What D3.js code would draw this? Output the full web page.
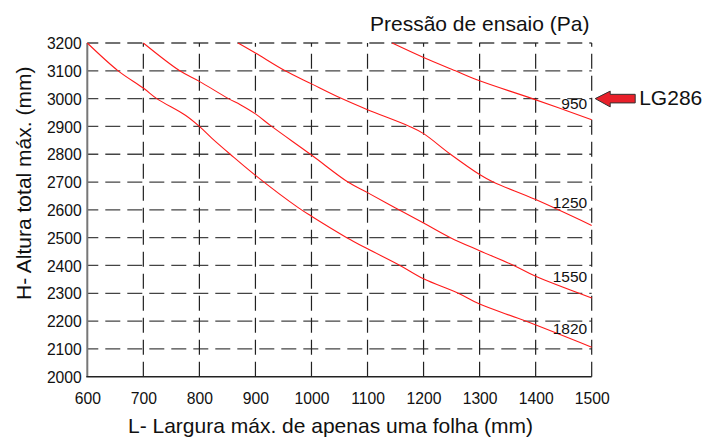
<!DOCTYPE html>
<html>
<head>
<meta charset="utf-8">
<script src="https://cdn.jsdelivr.net/npm/d3@7"></script>
<style>
  html, body { margin: 0; padding: 0; background: #fff; }
  svg { display: block; font-family: Arial, "Liberation Sans", sans-serif; }
</style>
</head>
<body>
<svg id="chart" width="705" height="438"></svg>
<script>
// ---- data ----
const xTicks = [600, 700, 800, 900, 1000, 1100, 1200, 1300, 1400, 1500];
const yTicks = [2000, 2100, 2200, 2300, 2400, 2500, 2600, 2700, 2800, 2900, 3000, 3100, 3200];
const pressures = ["950", "1250", "1550", "1820"];
const curve950 = [[1144,3200],[1200,3148],[1257,3100],[1300,3064],[1394,3000],[1500,2924]];
const curve1250 = [[869,3200],[900,3164],[953,3100],[1000,3053],[1054,3000],[1100,2960],[1175,2900],[1200,2874],[1248,2800],[1300,2727],[1325,2699],[1400,2637],[1500,2544]];
const curve1550 = [[700,3200],[765,3100],[800,3062],[852,3000],[873,2978],[900,2945],[929,2900],[1000,2797],[1065,2700],[1100,2662],[1150,2607],[1200,2553],[1248,2500],[1300,2453],[1361,2400],[1400,2361],[1500,2283]];
const curve1820 = [[600,3200],[655,3100],[700,3038],[724,3000],[775,2940],[800,2900],[822,2858],[855,2800],[900,2724],[977,2607],[1000,2577],[1063,2500],[1100,2460],[1158,2400],[1200,2352],[1262,2300],[1300,2261],[1382,2200],[1500,2106]];
const labelValues = [2961, 2605, 2341, 2154];
const markerLabel = "LG286";
const markerValue = 3000;
const xTitle = "L- Largura máx. de apenas uma folha (mm)";
const yTitle = "H- Altura total máx. (mm)";
const topTitle = "Pressão de ensaio (Pa)";

// ---- layout ----
const svg = d3.select("#chart");
const L = 87.3, R = 591.7, T = 43, B = 376.7;
const x = d3.scaleLinear().domain([600, 1500]).range([L, R]);
const y = d3.scaleLinear().domain([2000, 3200]).range([B, T]);

// grid - horizontal
const grid = svg.append("g");
grid.selectAll("line.h").data(yTicks.filter(d => d > 2000)).enter().append("line")
  .attr("x1", L).attr("x2", R)
  .attr("y1", d => y(d)).attr("y2", d => y(d))
  .attr("stroke", "#444").attr("stroke-width", 1.3)
  .attr("stroke-dasharray", "15,7").attr("stroke-dashoffset", 4);
// grid - vertical (drawn from bottom up)
grid.selectAll("line.v").data(xTicks.filter(d => d > 600)).enter().append("line")
  .attr("x1", d => x(d)).attr("x2", d => x(d))
  .attr("y1", B).attr("y2", T)
  .attr("stroke", "#222").attr("stroke-width", 1.2)
  .attr("stroke-dasharray", "15,7");

// axes lines
svg.append("line").attr("x1", L).attr("x2", L).attr("y1", T).attr("y2", B)
  .attr("stroke", "#777").attr("stroke-width", 2);
svg.append("line").attr("x1", L - 1).attr("x2", R).attr("y1", B).attr("y2", B)
  .attr("stroke", "#222").attr("stroke-width", 1.5);

// axes with d3
const xAxis = svg.append("g").attr("transform", `translate(0,${B})`)
  .call(d3.axisBottom(x).tickValues(xTicks).tickSize(0).tickPadding(0).tickFormat(d3.format("d")));
xAxis.select(".domain").remove();
xAxis.selectAll("text").attr("y", 27.5).attr("dy", null)
  .attr("font-size", "15.7px").attr("fill", "#111").attr("font-family", "Arial, 'Liberation Sans', sans-serif");

const yAxis = svg.append("g").attr("transform", `translate(${L},0)`)
  .call(d3.axisLeft(y).tickValues(yTicks).tickSize(0).tickPadding(0).tickFormat(d3.format("d")));
yAxis.select(".domain").remove();
yAxis.selectAll("text").attr("x", -5.5).attr("dy", "0.36em")
  .attr("font-size", "15.7px").attr("fill", "#111").attr("font-family", "Arial, 'Liberation Sans', sans-serif");

// curves
const line = d3.line().x(d => x(d[0])).y(d => y(d[1])).curve(d3.curveCatmullRom.alpha(0.5));
const curves = [curve950, curve1250, curve1550, curve1820];
svg.append("g").selectAll("path").data(curves).enter().append("path")
  .attr("d", line).attr("fill", "none").attr("stroke", "#ff1a1a").attr("stroke-width", 1.1);

// curve labels
svg.append("g").selectAll("text").data(pressures).enter().append("text")
  .attr("x", x(1500) - 4.5).attr("y", (d, i) => y(labelValues[i]))
  .attr("text-anchor", "end").attr("font-size", "15.5px").attr("fill", "#111")
  .text(d => d);

// marker arrow
const tx = x(1500) + 3.5, ty = y(markerValue);
const arrow = [[tx, ty], [tx + 15, ty - 7.5], [tx + 15, ty - 4.3], [tx + 40, ty - 4.3], [tx + 40, ty + 4.3], [tx + 15, ty + 4.3], [tx + 15, ty + 8.3]];
svg.append("polygon").attr("points", arrow.map(p => p.join(",")).join(" "))
  .attr("fill", "#e8202a").attr("stroke", "#333").attr("stroke-width", 1);
svg.append("text").attr("x", tx + 44).attr("y", ty + 6.8)
  .attr("font-size", "21px").attr("fill", "#111").text(markerLabel);

// titles
svg.append("text").attr("x", 370).attr("y", 31).attr("font-size", "21px").attr("fill", "#111").text(topTitle);
svg.append("text").attr("x", 128).attr("y", 432.5).attr("font-size", "21px").attr("fill", "#111").text(xTitle);
svg.append("text").attr("transform", "translate(31,300) rotate(-90)").attr("font-size", "21px").attr("fill", "#111").text(yTitle);
</script>
</body>
</html>
